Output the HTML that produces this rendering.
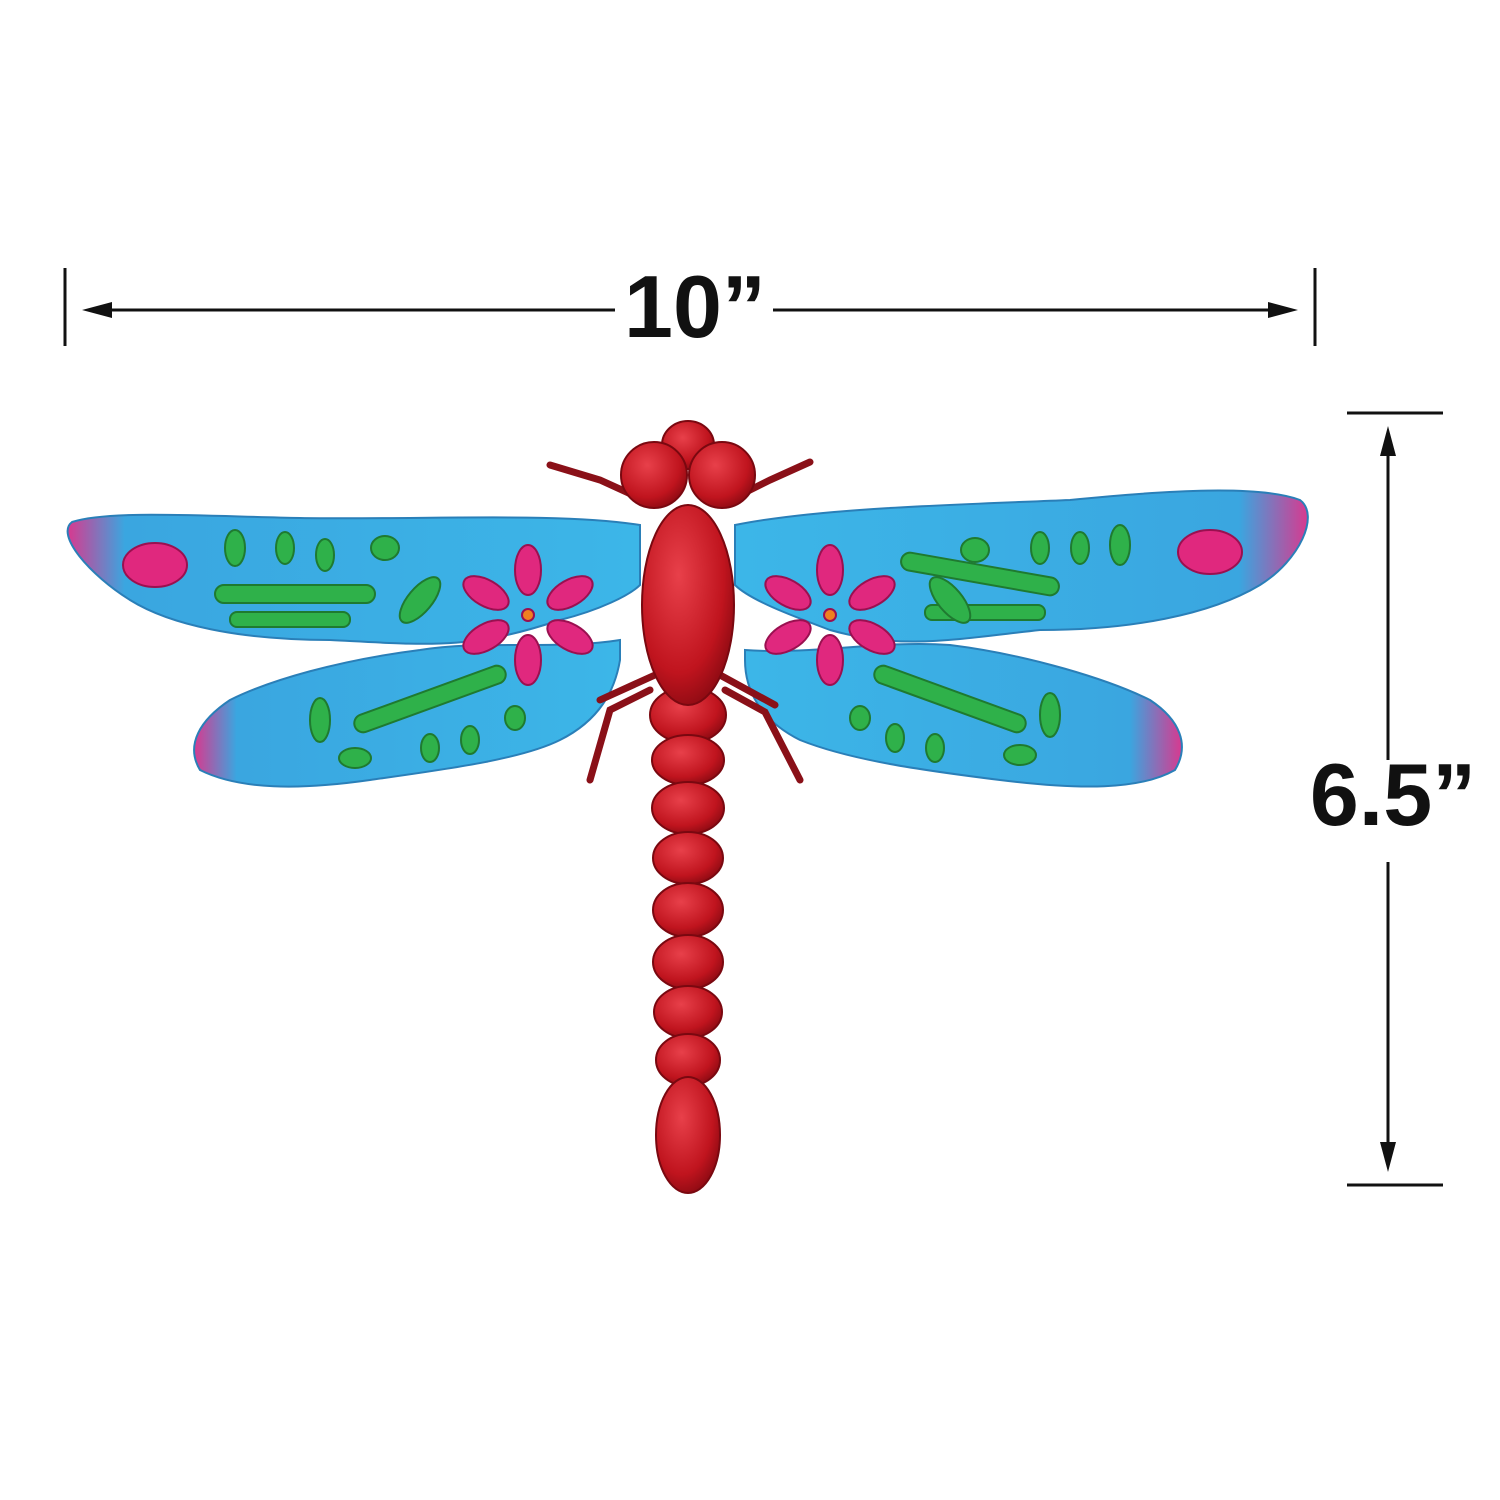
<!DOCTYPE html>
<html><head><meta charset="utf-8"><style>
html,body{margin:0;padding:0;background:#fff;}
svg{display:block;}
</style></head><body>
<svg width="1500" height="1500" viewBox="0 0 1500 1500">
<defs>
<linearGradient id="wl" x1="0" x2="1" y1="0" y2="0">
<stop offset="0" stop-color="#d8398f"/><stop offset="0.1" stop-color="#3aa6e0"/><stop offset="1" stop-color="#3cb6e8"/></linearGradient>
<linearGradient id="wr" x1="1" x2="0" y1="0" y2="0">
<stop offset="0" stop-color="#d8398f"/><stop offset="0.12" stop-color="#3aa6e0"/><stop offset="1" stop-color="#3cb6e8"/></linearGradient>
<radialGradient id="rb" cx="0.4" cy="0.35" r="0.7"><stop offset="0" stop-color="#e8404a"/><stop offset="0.7" stop-color="#c0141e"/><stop offset="1" stop-color="#8a0a12"/></radialGradient>
</defs>
<g stroke="#111" stroke-width="3" fill="#111">
<line x1="65" y1="268" x2="65" y2="346"/>
<line x1="1315" y1="268" x2="1315" y2="346"/>
<line x1="95" y1="310" x2="615" y2="310"/>
<line x1="773" y1="310" x2="1285" y2="310"/>
<polygon points="82,310 112,302 112,318" stroke="none"/>
<polygon points="1298,310 1268,302 1268,318" stroke="none"/>
</g>
<text x="695" y="337" text-anchor="middle" font-family="Liberation Sans, sans-serif" font-weight="bold" font-size="88" fill="#111">10”</text>
<g stroke="#111" stroke-width="3" fill="#111">
<line x1="1347" y1="413" x2="1443" y2="413"/>
<line x1="1347" y1="1185" x2="1443" y2="1185"/>
<line x1="1388" y1="440" x2="1388" y2="760"/>
<line x1="1388" y1="862" x2="1388" y2="1158"/>
<polygon points="1388,426 1380,456 1396,456" stroke="none"/>
<polygon points="1388,1172 1380,1142 1396,1142" stroke="none"/>
</g>
<text x="1393" y="825" text-anchor="middle" font-family="Liberation Sans, sans-serif" font-weight="bold" font-size="88" fill="#111">6.5”</text>
<g>
<path fill="url(#wl)" stroke="#2a7fb8" stroke-width="2" d="M640,525 C560,512 420,520 300,518 C200,516 110,510 72,522 C55,535 90,575 130,600 C170,625 240,640 330,640 C430,645 470,650 560,620 C600,610 630,595 640,585 Z"/>
<path fill="url(#wl)" stroke="#2a7fb8" stroke-width="2" d="M620,640 C560,650 480,640 420,650 C340,660 270,680 230,700 C200,720 185,745 200,770 C240,790 300,790 370,780 C440,770 520,760 560,740 C600,720 615,690 620,660 Z"/>
<path fill="url(#wr)" stroke="#2a7fb8" stroke-width="2" d="M735,525 C820,508 950,505 1070,500 C1170,490 1260,485 1300,500 C1320,515 1300,560 1260,585 C1210,615 1130,630 1040,630 C950,640 900,650 830,630 C790,615 750,600 735,585 Z"/>
<path fill="url(#wr)" stroke="#2a7fb8" stroke-width="2" d="M745,650 C810,655 880,640 950,645 C1030,655 1110,680 1150,700 C1180,720 1190,745 1175,770 C1140,790 1080,790 1000,780 C920,770 850,760 800,740 C760,720 745,690 745,660 Z"/>
<g fill="#2fb14a" stroke="#1f7a30" stroke-width="2">
<rect x="215" y="585" width="160" height="18" rx="9"/>
<rect x="230" y="612" width="120" height="15" rx="7"/>
<rect x="900" y="565" width="160" height="18" rx="9" transform="rotate(10 980 574)"/>
<rect x="925" y="605" width="120" height="15" rx="7"/>
<rect x="350" y="690" width="160" height="18" rx="9" transform="rotate(-20 430 699)"/>
<rect x="870" y="690" width="160" height="18" rx="9" transform="rotate(20 950 699)"/>
<ellipse cx="235" cy="548" rx="10" ry="18"/><ellipse cx="285" cy="548" rx="9" ry="16"/><ellipse cx="325" cy="555" rx="9" ry="16"/><ellipse cx="385" cy="548" rx="14" ry="12"/>
<ellipse cx="1040" cy="548" rx="9" ry="16"/><ellipse cx="1080" cy="548" rx="9" ry="16"/><ellipse cx="1120" cy="545" rx="10" ry="20"/><ellipse cx="975" cy="550" rx="14" ry="12"/>
<ellipse cx="420" cy="600" rx="12" ry="28" transform="rotate(40 420 600)"/><ellipse cx="950" cy="600" rx="12" ry="28" transform="rotate(-40 950 600)"/>
<ellipse cx="320" cy="720" rx="10" ry="22"/><ellipse cx="355" cy="758" rx="16" ry="10"/><ellipse cx="430" cy="748" rx="9" ry="14"/><ellipse cx="470" cy="740" rx="9" ry="14"/><ellipse cx="515" cy="718" rx="10" ry="12"/>
<ellipse cx="1050" cy="715" rx="10" ry="22"/><ellipse cx="1020" cy="755" rx="16" ry="10"/><ellipse cx="935" cy="748" rx="9" ry="14"/><ellipse cx="895" cy="738" rx="9" ry="14"/><ellipse cx="860" cy="718" rx="10" ry="12"/>
</g>
<g fill="#e0287e" stroke="#9a1050" stroke-width="2">
<ellipse cx="155" cy="565" rx="32" ry="22"/><ellipse cx="1210" cy="552" rx="32" ry="22"/>
<g transform="translate(528,615)"><ellipse cx="0" cy="-45" rx="13" ry="25"/><ellipse cx="0" cy="45" rx="13" ry="25"/><ellipse cx="-42" cy="-22" rx="13" ry="25" transform="rotate(-60 -42 -22)"/><ellipse cx="42" cy="-22" rx="13" ry="25" transform="rotate(60 42 -22)"/><ellipse cx="-42" cy="22" rx="13" ry="25" transform="rotate(60 -42 22)"/><ellipse cx="42" cy="22" rx="13" ry="25" transform="rotate(-60 42 22)"/><circle r="6" fill="#f08020"/></g>
<g transform="translate(830,615)"><ellipse cx="0" cy="-45" rx="13" ry="25"/><ellipse cx="0" cy="45" rx="13" ry="25"/><ellipse cx="-42" cy="-22" rx="13" ry="25" transform="rotate(-60 -42 -22)"/><ellipse cx="42" cy="-22" rx="13" ry="25" transform="rotate(60 42 -22)"/><ellipse cx="-42" cy="22" rx="13" ry="25" transform="rotate(60 -42 22)"/><ellipse cx="42" cy="22" rx="13" ry="25" transform="rotate(-60 42 22)"/><circle r="6" fill="#f08020"/></g>
</g>
<g stroke="#8a1018" stroke-width="7" fill="none" stroke-linecap="round">
<path d="M655,505 L600,480 L550,465"/><path d="M720,505 L770,480 L810,462"/>
<path d="M650,690 L610,710 L590,780"/><path d="M725,690 L765,712 L800,780"/>
<path d="M655,675 L600,700"/><path d="M720,675 L775,705"/>
</g>
<g fill="url(#rb)" stroke="#7a0810" stroke-width="2">
<ellipse cx="688" cy="715" rx="38" ry="28"/>
<ellipse cx="688" cy="760" rx="36" ry="25"/>
<ellipse cx="688" cy="808" rx="36" ry="26"/>
<ellipse cx="688" cy="858" rx="35" ry="26"/>
<ellipse cx="688" cy="910" rx="35" ry="27"/>
<ellipse cx="688" cy="962" rx="35" ry="27"/>
<ellipse cx="688" cy="1012" rx="34" ry="26"/>
<ellipse cx="688" cy="1060" rx="32" ry="26"/>
<ellipse cx="688" cy="1135" rx="32" ry="58"/>
<ellipse cx="688" cy="605" rx="46" ry="100"/>
<ellipse cx="688" cy="445" rx="26" ry="24"/>
<circle cx="654" cy="475" r="33"/>
<circle cx="722" cy="475" r="33"/>
</g>
</g>
</svg>
</body></html>
